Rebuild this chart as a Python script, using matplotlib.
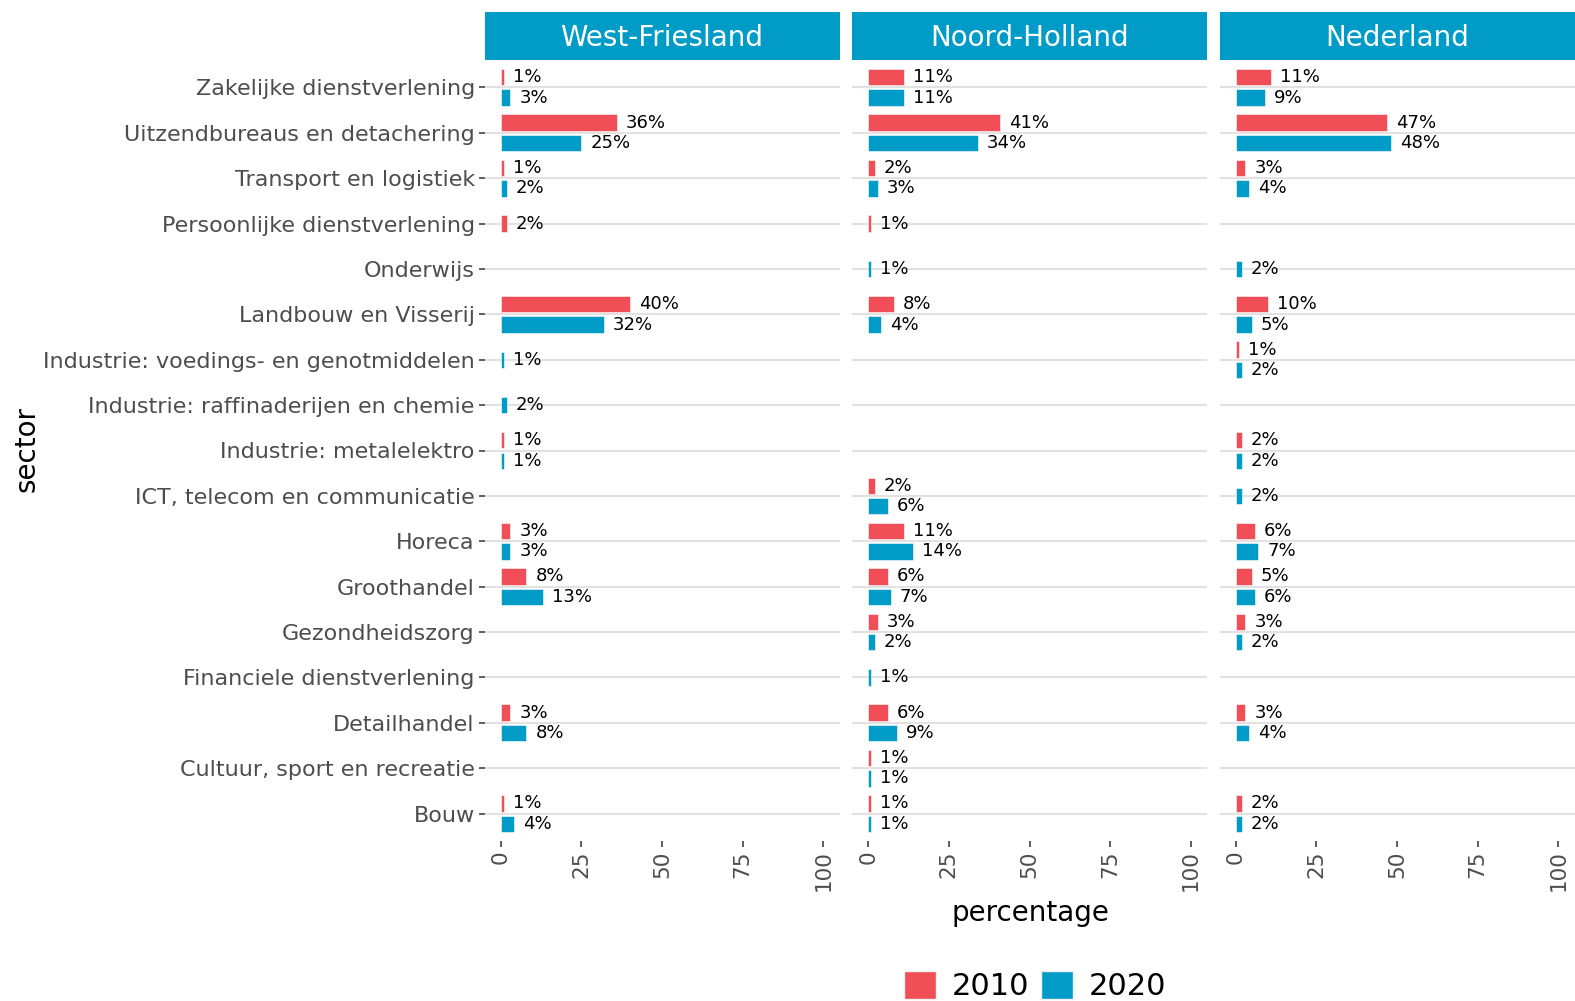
import numpy as np
import matplotlib.pyplot as plt
from matplotlib.patches import Patch

plt.rcParams['font.family'] = ['DejaVu Sans']

# sectors, listed top to bottom
sectors = ['Zakelijke dienstverlening', 'Uitzendbureaus en detachering',
           'Transport en logistiek', 'Persoonlijke dienstverlening', 'Onderwijs',
           'Landbouw en Visserij', 'Industrie: voedings- en genotmiddelen',
           'Industrie: raffinaderijen en chemie', 'Industrie: metalelektro',
           'ICT, telecom en communicatie', 'Horeca', 'Groothandel',
           'Gezondheidszorg', 'Financiele dienstverlening', 'Detailhandel',
           'Cultuur, sport en recreatie', 'Bouw']
regions = ['West-Friesland', 'Noord-Holland', 'Nederland']
years = ['2010', '2020']

# percentages per sector (None = no value)
wf_2010 = [1, 36, 1, 2, None, 40, None, None, 1, None, 3, 8, None, None, 3, None, 1]
wf_2020 = [3, 25, 2, None, None, 32, 1, 2, 1, None, 3, 13, None, None, 8, None, 4]
nh_2010 = [11, 41, 2, 1, None, 8, None, None, None, 2, 11, 6, 3, None, 6, 1, 1]
nh_2020 = [11, 34, 3, None, 1, 4, None, None, None, 6, 14, 7, 2, 1, 9, 1, 1]
nl_2010 = [11, 47, 3, None, None, 10, 1, None, 2, None, 6, 5, 3, None, 3, None, 2]
nl_2020 = [9, 48, 4, None, 2, 5, 2, None, 2, 2, 7, 6, 2, None, 4, None, 2]

values = {'West-Friesland': (wf_2010, wf_2020),
          'Noord-Holland': (nh_2010, nh_2020),
          'Nederland': (nl_2010, nl_2020)}

red = '#F04F57'
blue = '#009CC7'
colors = [red, blue]

W, H = 1575, 1001
fig = plt.figure(figsize=(W / 100, H / 100), dpi=100)

n = len(sectors)
ypos = np.arange(n)[::-1]
lefts = [484.5, 852, 1219.5]
pw = 355
pbottom = 1 - 840.8 / H
ph = 780.6 / H
bar_h = 0.36
off = 0.225

for k, reg in enumerate(regions):
    ax = fig.add_axes([lefts[k] / W, pbottom, pw / W, ph])
    v10, v20 = values[reg]
    for i in range(n):
        pair = [v10[i], v20[i]]
        both = pair[0] is not None and pair[1] is not None
        for j, v in enumerate(pair):
            if v is None:
                continue
            # dodge the two years; a lone bar sits on the row centre
            y = ypos[i] + ((off if j == 0 else -off) if both else 0)
            ax.barh(y, v, height=bar_h, color=colors[j], edgecolor='white', linewidth=0.4)
            ax.annotate(f'{v}%', (v, y), xytext=(6.5, 0), textcoords='offset points',
                        ha='left', va='center', fontsize=13, color='black')
    ax.set_xlim(-5, 105)
    ax.set_ylim(-0.6, n - 0.4)
    ax.set_xticks([0, 25, 50, 75, 100])
    ax.set_xticklabels(['0', '25', '50', '75', '100'], rotation=90, va='top', ha='center')
    ax.set_yticks(ypos)
    if k == 0:
        ax.set_yticklabels(sectors)
        ax.tick_params(axis='y', length=4, width=1.1, color='#333333', pad=3,
                       labelsize=16, labelcolor='#4D4D4D')
    else:
        ax.set_yticklabels([])
        ax.tick_params(axis='y', length=0)
    ax.tick_params(axis='x', length=4, width=1.1, color='#333333', pad=3,
                   labelsize=15.5, labelcolor='#4D4D4D')
    ax.grid(axis='y', color='#E2E2E2', linewidth=1.5)
    ax.set_axisbelow(True)
    for s in ax.spines.values():
        s.set_visible(False)

    # facet strip
    st = fig.add_axes([lefts[k] / W, 1 - 60.3 / H, pw / W, 48.5 / H])
    st.set_facecolor(blue)
    st.set_xticks([])
    st.set_yticks([])
    for s in st.spines.values():
        s.set_visible(False)
    st.text(0.5, 0.47, reg, ha='center', va='center', color='white',
            fontsize=20, transform=st.transAxes)

fig.text(1030 / W, 1 - 913 / H, 'percentage', ha='center', va='center', fontsize=20)
fig.text(27 / W, 1 - 449 / H, 'sector', ha='center', va='center', fontsize=20, rotation=90)

handles = [Patch(facecolor=c, edgecolor='#F2F2F2') for c in colors]
fig.legend(handles, years, loc='center', bbox_to_anchor=(1035 / W, 1 - 986 / H),
           ncol=2, frameon=False, fontsize=22, handlelength=1.05, handleheight=1.05,
           handletextpad=0.5, columnspacing=0.4)

fig.savefig('out.png', dpi=100)
